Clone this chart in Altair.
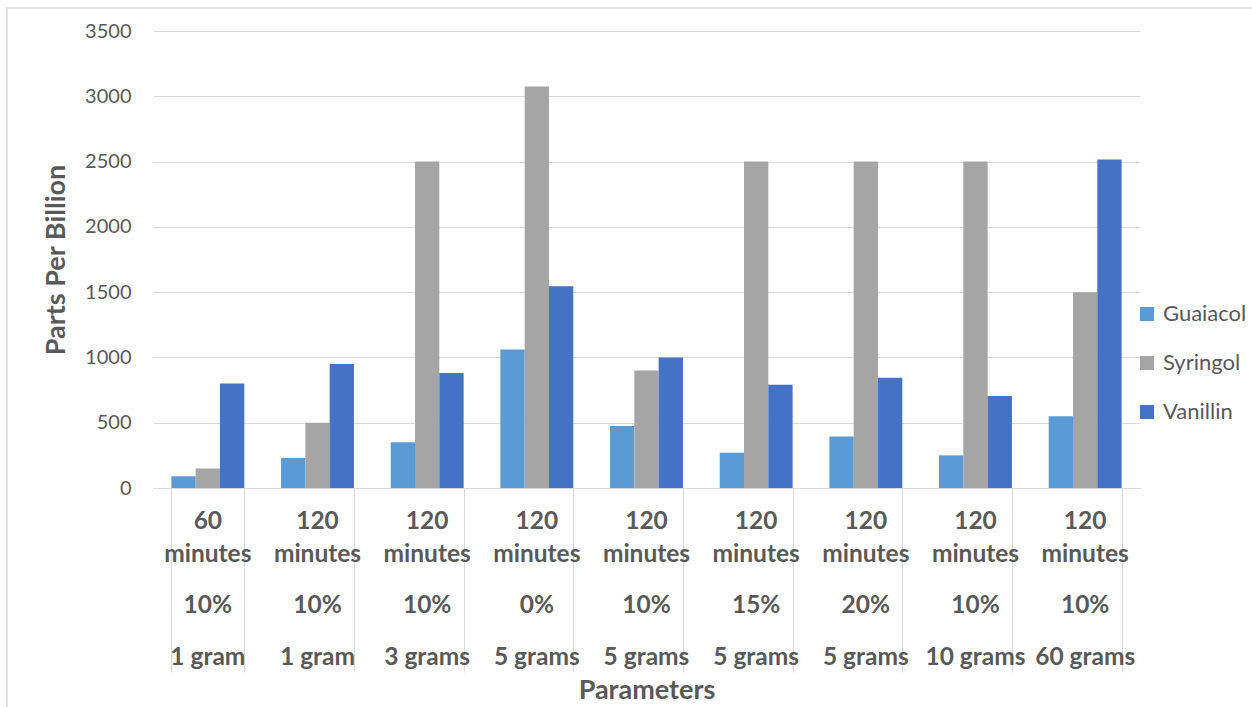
import altair as alt
import pandas as pd

cats = ["g1", "g2", "g3", "g4", "g5", "g6", "g7", "g8", "g9"]
times = ["60", "120", "120", "120", "120", "120", "120", "120", "120"]
pcts = ["10%", "10%", "10%", "0%", "10%", "15%", "20%", "10%", "10%"]
masses = ["1 gram", "1 gram", "3 grams", "5 grams", "5 grams", "5 grams", "5 grams", "10 grams", "60 grams"]

series = ["Guaiacol", "Syringol", "Vanillin"]
guaiacol = [90, 230, 350, 1060, 475, 270, 395, 250, 550]
syringol = [150, 500, 2500, 3075, 900, 2500, 2500, 2500, 1500]
vanillin = [800, 950, 880, 1545, 1000, 790, 845, 705, 2515]
colors = ["#5b9bd5", "#a5a5a5", "#4472c4"]

rows = []
for name, vals in zip(series, [guaiacol, syringol, vanillin]):
    for c, v in zip(cats, vals):
        rows.append({"cat": c, "series": name, "value": v})
bars_df = pd.DataFrame(rows)
labels_df = pd.DataFrame({"cat": cats, "time": times, "pct": pcts, "mass": masses})

FONT = "Lato"
GREY = "#595959"
W, H = 987, 457

xscale = alt.Scale(domain=cats, paddingInner=0.335, paddingOuter=0.1675)

bars = alt.Chart(bars_df).mark_bar().encode(
    x=alt.X("cat:N", sort=cats, scale=xscale,
            axis=alt.Axis(labels=False, title="Parameters", tickBand="extent",
                          tickSize=184, tickColor="#d9d9d9", domainColor="#d9d9d9",
                          titleFont=FONT, titleFontSize=27, titleFontWeight="bold",
                          titleColor=GREY, titleY=202, titleBaseline="middle", grid=False)),
    xOffset=alt.XOffset("series:N", sort=series),
    y=alt.Y("value:Q", scale=alt.Scale(domain=[0, 3500], nice=False),
            axis=alt.Axis(values=list(range(0, 3501, 500)), format="d", title="Parts Per Billion",
                          domain=False, ticks=False, labelFont=FONT, labelFontSize=20,
                          labelColor=GREY, labelPadding=22, gridColor="#d9d9d9",
                          titleFont=FONT, titleFontSize=27, titleFontWeight="bold",
                          titleColor=GREY, titleX=-97, titleY=H / 2, titleAngle=-90,
                          titleAlign="center", titleBaseline="middle")),
    color=alt.Color("series:N", sort=series,
                    scale=alt.Scale(domain=series, range=colors),
                    legend=alt.Legend(title=None, orient="none", legendX=983, legendY=272,
                                      symbolType="square", symbolSize=196,
                                      symbolStrokeWidth=0, labelFont=FONT,
                                      labelFontSize=22, labelColor=GREY,
                                      rowPadding=27, labelOffset=5)),
)

def text_row(field, ypos, size=24.5):
    return alt.Chart(labels_df).mark_text(
        font=FONT, fontSize=size, fontWeight="bold", color=GREY, baseline="middle"
    ).encode(
        x=alt.X("cat:N", sort=cats, scale=xscale),
        y=alt.value(ypos),
        text=f"{field}:N",
    )

row_time = text_row("time", 491)
row_min = alt.Chart(labels_df).mark_text(
    font=FONT, fontSize=24.5, fontWeight="bold", color=GREY, baseline="middle", text="minutes"
).encode(x=alt.X("cat:N", sort=cats, scale=xscale), y=alt.value(524))
row_pct = text_row("pct", 575)
row_mass = text_row("mass", 627)

border = alt.Chart(alt.Data(values=[{}])).mark_rect(
    filled=False, stroke="#d9d9d9", strokeWidth=1.5
).encode(x=alt.value(-146), x2=alt.value(1150), y=alt.value(-23), y2=alt.value(720))

chart = alt.layer(border, bars, row_time, row_min, row_pct, row_mass).properties(
    width=W, height=H,
    background="white",
    autosize=alt.AutoSizeParams(type="none"),
    padding={"left": 153, "top": 31, "right": 112, "bottom": 219},
).configure_view(strokeWidth=0)

chart.save("out.html", embed_options={"renderer": "svg", "actions": False})
